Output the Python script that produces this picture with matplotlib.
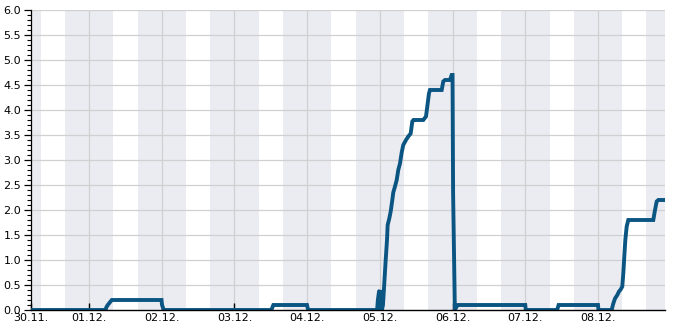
import matplotlib
matplotlib.use("Agg")
import matplotlib.pyplot as plt
import matplotlib.dates as mdates
import pandas as pd
import numpy as np

YEAR = "2023"
times = [
    "11-30 04:50", "12-01 05:30", "12-01 05:40", "12-01 06:10", "12-01 06:50", "12-01 07:30",
    "12-01 23:55", "12-02 00:05", "12-02 00:40",
    "12-03 12:10", "12-03 12:30", "12-03 12:50", "12-03 23:55", "12-04 00:20",
    "12-04 23:05", "12-04 23:20", "12-04 23:40", "12-04 23:58", "12-05 00:05", "12-05 00:40",
    "12-05 01:01", "12-05 01:27", "12-05 01:55", "12-05 02:21", "12-05 02:34", "12-05 03:06",
    "12-05 03:34", "12-05 04:06", "12-05 04:25", "12-05 04:59", "12-05 05:33", "12-05 06:04",
    "12-05 06:38", "12-05 07:12", "12-05 07:43", "12-05 08:37", "12-05 09:22", "12-05 10:10",
    "12-05 10:42", "12-05 11:05", "12-05 14:19", "12-05 15:13", "12-05 15:39", "12-05 16:12",
    "12-05 16:32", "12-05 20:24", "12-05 20:55", "12-05 21:29", "12-05 23:08", "12-05 23:42",
    "12-05 23:59", "12-06 00:10", "12-06 00:45", "12-06 01:10", "12-06 01:40",
    "12-06 23:59", "12-07 00:10", "12-07 10:30", "12-07 10:45", "12-07 11:00",
    "12-07 23:59", "12-08 00:10", "12-08 04:30", "12-08 05:03", "12-08 05:37", "12-08 06:22",
    "12-08 06:56", "12-08 07:29", "12-08 08:01", "12-08 08:21", "12-08 08:41", "12-08 09:01",
    "12-08 09:28", "12-08 10:00", "12-08 18:15", "12-08 18:49", "12-08 19:22", "12-08 19:54",
    "12-08 22:10",
]
values = [
    0.0, 0.0, 0.05, 0.1, 0.15, 0.2,
    0.2, 0.1, 0.0,
    0.0, 0.05, 0.1, 0.1, 0.0,
    0.0, 0.2, 0.35, 0.4, 0.0, 0.0,
    0.1, 0.53, 1.0, 1.4, 1.7, 1.83,
    1.97, 2.2, 2.35, 2.47, 2.6, 2.8,
    2.93, 3.15, 3.3, 3.4, 3.47, 3.53,
    3.77, 3.8, 3.8, 3.87, 4.07, 4.33,
    4.4, 4.4, 4.57, 4.6, 4.6, 4.7,
    4.7, 2.35, 0.0, 0.05, 0.1,
    0.1, 0.0, 0.0, 0.05, 0.1,
    0.1, 0.0, 0.0, 0.13, 0.23, 0.3,
    0.37, 0.41, 0.47, 0.73, 1.07, 1.4,
    1.67, 1.8, 1.8, 2.0, 2.17, 2.2,
    2.2,
]
x_start = "11-30 04:50"
x_end = "12-08 22:07"
tick_days = ["12-01", "12-02", "12-03", "12-04", "12-05", "12-06", "12-07", "12-08"]
tick_labels = ["30.11.", "01.12.", "02.12.", "03.12.", "04.12.", "05.12.", "06.12.", "07.12.", "08.12."]
night_days = ["11-29", "11-30", "12-01", "12-02", "12-03", "12-04", "12-05", "12-06", "12-07", "12-08"]

def ts(s):
    return pd.Timestamp(f"{YEAR}-{s}")

t = [ts(s) for s in times]
x0, x1 = ts(x_start), ts(x_end)

fig = plt.figure(figsize=(6.85, 3.30), dpi=100)
ax = fig.add_axes([31/685, 20/330, 634/685, 300/330])

for d in night_days:
    dd = ts(d + " 00:00")
    ax.axvspan(dd + pd.Timedelta(hours=16), dd + pd.Timedelta(hours=32),
               color="#ebecf2", lw=0, zorder=0)

ax.plot(t, values, color="#0b5583", lw=2.8, solid_joinstyle="miter", zorder=3)

ax.set_xlim(x0, x1)
ax.set_ylim(0, 6.0)
ax.set_yticks(np.arange(0, 6.01, 0.5))
ax.set_yticks(np.arange(0, 6.01, 0.1), minor=True)
ax.set_yticklabels([f"{v:.1f}" for v in np.arange(0, 6.01, 0.5)])

tick_pos = [x0] + [ts(d + " 00:00") for d in tick_days]
ax.set_xticks(tick_pos)
ax.set_xticklabels(tick_labels)

ax.grid(False)
for y in np.arange(0.5, 6.01, 0.5):
    ax.axhline(y, color="#d0d0d0", lw=0.9, zorder=1)
for p in tick_pos[1:]:
    ax.axvline(p, color="#d0d0d0", lw=0.9, zorder=1)

for s in ["top", "right"]:
    ax.spines[s].set_visible(False)
ax.spines["left"].set_linewidth(0.9)
ax.spines["bottom"].set_linewidth(1.0)
ax.spines["bottom"].set_zorder(4)

ax.tick_params(axis="x", direction="in", length=5, width=1, labelsize=8, pad=2, colors="black")
ax.tick_params(axis="y", which="major", direction="out", length=5, width=0.9, labelsize=8, pad=2)
ax.tick_params(axis="y", which="minor", direction="out", length=3, width=0.8)

fig.savefig("out.png", dpi=100)
